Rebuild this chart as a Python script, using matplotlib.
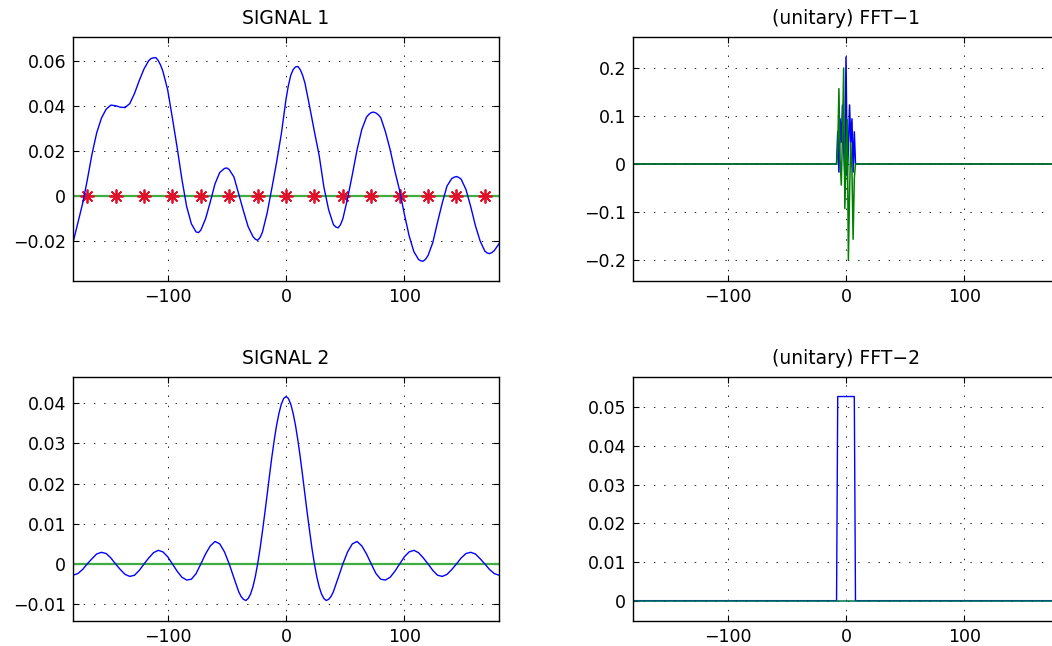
import matplotlib.pyplot as plt
import numpy as np
from matplotlib.ticker import FuncFormatter

plt.rcParams['font.family'] = ['DejaVu Sans']

# Signal 1, every 4 units from -180 to 180
t = list(range(-180, 181, 4))
sig1 = [-0.0205, -0.0120, -0.0035, 0.0070, 0.0185, 0.0280, 0.0345, 0.0385, 0.0403, 0.0400,
        0.0394, 0.0392, 0.0410, 0.0455, 0.0512, 0.0563, 0.0600, 0.0612, 0.0600, 0.0552,
        0.0470, 0.0345, 0.0215, 0.0075, -0.0045, -0.0122, -0.0158, -0.0150, -0.0100, -0.0025,
        0.0055, 0.0105, 0.0123, 0.0118, 0.0085, 0.0010, -0.0065, -0.0135, -0.0178, -0.0195,
        -0.0160, -0.0075, 0.0035, 0.0150, 0.0275, 0.0430, 0.0535, 0.0572, 0.0560, 0.0500,
        0.0395, 0.0285, 0.0180, 0.0040, -0.0060, -0.0125, -0.0140, -0.0100, -0.0010, 0.0095,
        0.0205, 0.0295, 0.0350, 0.0370, 0.0368, 0.0348, 0.0285, 0.0205, 0.0110, 0.0025,
        -0.0080, -0.0175, -0.0245, -0.0280, -0.0287, -0.0262, -0.0205, -0.0115, -0.0030, 0.0045,
        0.0078, 0.0087, 0.0075, 0.0030, -0.0045, -0.0130, -0.0198, -0.0243, -0.0254, -0.0240,
        -0.0210]
# extra readings around the peaks and troughs
t_extra = [-114, -110, -106, -74, -50, -26, -22, 2, 6, 10, 14, 42, 46,
           70, 74, 78, 114, 118, 142, 146, 170, 174]
sig1_extra = [0.0609, 0.0613, 0.0580, -0.0161, 0.0125, -0.0190, -0.0183, 0.0490, 0.0560,
              0.0574, 0.0535, -0.0136, -0.0126, 0.0362, 0.0372, 0.0360, -0.0286, -0.0278,
              0.0084, 0.0083, -0.0251, -0.0249]

# Signal 2 is symmetric: right half, denser around the main lobe
t2_half = [0, 2, 4, 6, 8, 10, 12, 14, 16, 18, 20, 22, 24, 26, 28, 30, 32, 34, 36, 38, 40,
           44, 48, 52, 56, 60, 64, 68, 72, 76, 80, 84, 88, 92, 96, 100, 104, 108, 112, 116,
           120, 124, 128, 132, 136, 140, 144, 148, 152, 156, 160, 164, 168, 172, 176, 180]
sig2_half = [0.0417, 0.0412, 0.0398, 0.0375, 0.0345, 0.0308, 0.0266, 0.0220, 0.0172, 0.0125,
             0.0080, 0.0037, 0.0, -0.0032, -0.0057, -0.0075, -0.0086, -0.0091, -0.0088, -0.0081,
             -0.0069, -0.0035, 0.0, 0.0030, 0.0050, 0.0056, 0.0045, 0.0025, 0.0, -0.0024,
             -0.0038, -0.0040, -0.0033, -0.0018, 0.0, 0.0018, 0.0030, 0.0034, 0.0028, 0.0015,
             0.0, -0.0016, -0.0028, -0.0031, -0.0026, -0.0014, 0.0, 0.0015, 0.0026, 0.0029,
             0.0025, 0.0013, 0.0, -0.0014, -0.0024, -0.0028]

# sample points (red stars)
samples_x = [-168, -144, -120, -96, -72, -48, -24, 0, 24, 48, 72, 96, 120, 144, 168]

# non-zero FFT bins
bins_nz = [-7, -6, -5, -4, -3, -2, -1, 0, 1, 2, 3, 4, 5, 6, 7]
fft1_re = [0.067, -0.017, 0.094, 0.045, 0.123, 0.030, -0.024, 0.223,
           -0.024, 0.030, 0.123, 0.045, 0.094, -0.017, 0.067]
fft1_im = [0.030, 0.157, 0.010, -0.044, 0.060, 0.200, -0.093, 0.0,
           0.093, -0.200, -0.060, 0.044, -0.010, -0.157, -0.030]
fft2_re = [0.0528, 0.0528, 0.0528, 0.0528, 0.0528, 0.0528, 0.0528, 0.0528,
           0.0528, 0.0528, 0.0528, 0.0528, 0.0528, 0.0528, 0.0528]

# merge the readings of signal 1
t1 = np.array(t + t_extra)
order = np.argsort(t1)
t1 = t1[order]
s1 = np.array(sig1 + sig1_extra)[order]

t2 = [-x for x in t2_half[:0:-1]] + t2_half
sig2 = sig2_half[:0:-1] + sig2_half

freq = np.arange(-180, 181)


def spectrum(vals):
    s = np.zeros(len(freq))
    s[np.array(bins_nz) + 180] = vals
    return s


def fmt(v, pos):
    s = '%g' % round(v, 6)
    return s.replace('-', '\u2212')


def style(ax, yticks, ylim):
    ax.set_xlim(-180, 180)
    ax.set_ylim(*ylim)
    ax.set_xticks([-100, 0, 100])
    ax.set_yticks(yticks)
    ax.xaxis.set_major_formatter(FuncFormatter(fmt))
    ax.yaxis.set_major_formatter(FuncFormatter(fmt))
    ax.tick_params(direction='in', length=4, top=True, right=True,
                   labelsize=12.5, pad=5)
    ax.grid(True, color='k', linestyle=(0, (1.5, 9)), linewidth=0.7, alpha=0.85)
    for sp in ax.spines.values():
        sp.set_linewidth(1.0)


fig = plt.figure(figsize=(10.52, 6.46), dpi=100)
ax1 = fig.add_axes([0.0694, 0.565, 0.405, 0.378])
ax2 = fig.add_axes([0.6017, 0.565, 0.405, 0.378])
ax3 = fig.add_axes([0.0694, 0.0387, 0.405, 0.378])
ax4 = fig.add_axes([0.6017, 0.0387, 0.405, 0.378])

# SIGNAL 1
ax1.plot(t1, np.zeros(len(t1)), color=(0.25, 0.68, 0.25), lw=1.6)
ax1.plot(samples_x, np.zeros(len(samples_x)), linestyle='none', marker=(8, 2, 0),
         color='#e0102a', markersize=10, markeredgewidth=1.3)
ax1.plot(t1, s1, color='b', lw=1.0)
style(ax1, [-0.02, 0, 0.02, 0.04, 0.06], (-0.0375, 0.0705))
ax1.set_title('SIGNAL 1', fontsize=13.5, pad=9)

# FFT-1
ax2.plot(freq, spectrum(fft1_re), color='b', lw=1.1)
ax2.plot(freq, spectrum(fft1_im), color=(0, 0.5, 0), lw=1.1)
style(ax2, [-0.2, -0.1, 0, 0.1, 0.2], (-0.244, 0.265))
ax2.set_title('(unitary) FFT\u22121', fontsize=13.5, pad=9)

# SIGNAL 2
ax3.plot(t2, np.zeros(len(t2)), color=(0.25, 0.68, 0.25), lw=1.6)
ax3.plot(t2, sig2, color='b', lw=1.0)
style(ax3, [-0.01, 0, 0.01, 0.02, 0.03, 0.04], (-0.0142, 0.0466))
ax3.set_title('SIGNAL 2', fontsize=13.5, pad=9)

# FFT-2
ax4.plot(freq, spectrum(fft2_re), color='b', lw=1.0)
ax4.plot(freq, np.zeros(len(freq)), color=(0, 0.45, 0.3), lw=1.1)
style(ax4, [0, 0.01, 0.02, 0.03, 0.04, 0.05], (-0.00526, 0.0579))
ax4.set_title('(unitary) FFT\u22122', fontsize=13.5, pad=9)

fig.savefig('out.png', dpi=100)
